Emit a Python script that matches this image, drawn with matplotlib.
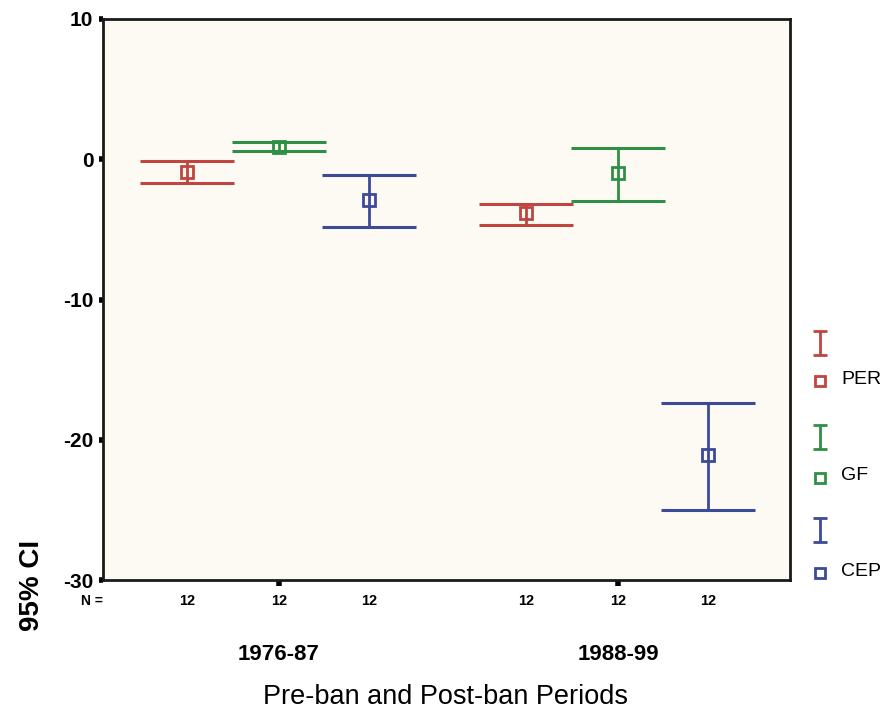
import matplotlib
matplotlib.use("Agg")
import matplotlib.pyplot as plt
import matplotlib.transforms as mtransforms
import numpy as np

plt.rcParams['font.family'] = ['Liberation Sans', 'DejaVu Sans']

# ---- data ----
periods = ["1976-87", "1988-99"]
series = ["PER", "GF", "CEP"]
colors = {"PER": "#c0443f", "GF": "#2f8f45", "CEP": "#3b4a99"}
means = {"PER": [-0.9, -3.8], "GF": [0.9, -1.0], "CEP": [-2.9, -21.1]}
upper = {"PER": [-0.1, -3.2], "GF": [1.2, 0.8], "CEP": [-1.1, -17.4]}
lower = {"PER": [-1.7, -4.7], "GF": [0.6, -3.0], "CEP": [-4.8, -25.0]}
n_counts = {"PER": [12, 12], "GF": [12, 12], "CEP": [12, 12]}
yticks = [10, 0, -10, -20, -30]

W, H = 896, 714
fig = plt.figure(figsize=(W / 100, H / 100), dpi=100)
fig.patch.set_facecolor("white")

L, R, T, B = 103, 790, 19, 580
ax = fig.add_axes([L / W, 1 - B / H, (R - L) / W, (B - T) / H])
ax.set_facecolor("#fdfaf4")

offsets = {"PER": -0.272, "GF": 0.0, "CEP": 0.265}
cap_hw = 0.139
group_x = np.arange(len(periods))

for s in series:
    c = colors[s]
    for i, gx in enumerate(group_x):
        x = gx + offsets[s]
        lo, hi, m = lower[s][i], upper[s][i], means[s][i]
        ax.vlines(x, lo, hi, color=c, lw=2)
        ax.hlines([lo, hi], x - cap_hw, x + cap_hw, color=c, lw=2.2)
        ax.plot([x], [m], marker="s", ms=9, mfc="none", mec=c, mew=2, ls="none")

ax.set_ylim(-30, 10)
ax.set_xlim(-0.519, 1.507)
ax.set_yticks(yticks)
ax.set_yticklabels([str(t) for t in yticks], fontsize=15, fontweight="bold")
ax.set_xticks(group_x)
ax.set_xticklabels(periods, fontsize=16, fontweight="bold")
ax.tick_params(axis="x", direction="out", length=4, width=4, pad=42)
ax.tick_params(axis="y", direction="out", length=3, width=4, pad=4)
for sp in ax.spines.values():
    sp.set_linewidth(2)
    sp.set_color("#1a1a1a")

# N = labels
trans = mtransforms.blended_transform_factory(ax.transData, ax.transAxes)
ny = -(601 - B) / (B - T)
ax.text(-0.552, ny, "N =", transform=trans, ha="center", va="center", fontsize=10, fontweight="bold")
for s in series:
    for i, gx in enumerate(group_x):
        ax.text(gx + offsets[s], ny, str(n_counts[s][i]), transform=trans,
                ha="center", va="center", fontsize=10.5, fontweight="bold")

fig.text(445 / W, 1 - 697 / H, "Pre-ban and Post-ban Periods", ha="center", va="center", fontsize=19.5)
fig.text(32 / W, 1 - 585 / H, "95% CI", ha="center", va="center", rotation=90,
         fontsize=20, fontweight="bold")

# legend (manual)
lax = fig.add_axes([0.88, 0, 0.12, 1])
lax.set_xlim(788, 896)
lax.set_ylim(H, 0)
lax.axis("off")
leg_y = {"PER": (343, 381), "GF": (437, 478), "CEP": (530, 573)}
for s in series:
    c = colors[s]
    yi, ys = leg_y[s]
    lax.vlines(820, yi - 12, yi + 12, color=c, lw=2)
    lax.hlines([yi - 12, yi + 12], 813, 827, color=c, lw=2)
    lax.plot([820], [ys], marker="s", ms=7.5, mfc="none", mec=c, mew=2)
    lax.text(841, ys - 2, s, ha="left", va="center", fontsize=14)

fig.savefig("out.png", dpi=100)
